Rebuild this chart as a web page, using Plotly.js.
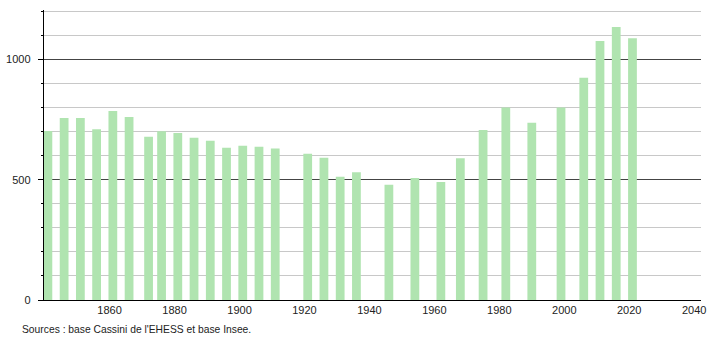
<!DOCTYPE html>
<html>
<head>
<meta charset="utf-8">
<script src="https://cdn.plot.ly/plotly-3.0.1.min.js"></script>
<style>html,body{margin:0;padding:0;background:#fff;}#chart{width:710px;height:340px;}</style>
</head>
<body>
<div id="chart"></div>
<script>
const years = [1841, 1846, 1851, 1856, 1861, 1866, 1872, 1876, 1881, 1886, 1891, 1896, 1901, 1906, 1911,
  1921, 1926, 1931, 1936, 1946, 1954, 1962, 1968, 1975, 1982, 1990, 1999, 2006, 2011, 2016, 2021];
const population = [702, 756, 756, 710, 785, 760, 678, 701, 694, 674, 662, 633, 641, 637, 629,
  608, 591, 512, 531, 479, 507, 490, 589, 706, 800, 737, 800, 924, 1076, 1134, 1088];
const xTickVals = [1860, 1880, 1900, 1920, 1940, 1960, 1980, 2000, 2020, 2040];
const yTickVals = [0, 500, 1000];
const sourceText = "Sources : base Cassini de l'EHESS et base Insee.";

const trace = {
  type: 'bar',
  x: years,
  y: population,
  width: 2.7,
  marker: {color: '#b0e4b0', line: {width: 0}},
  hoverinfo: 'x+y'
};

const layout = {
  width: 710, height: 340,
  margin: {l: 44, r: 9, t: 10, b: 40},
  paper_bgcolor: '#fff', plot_bgcolor: '#fff',
  showlegend: false,
  font: {family: 'Liberation Sans, Arial, sans-serif', size: 11, color: '#222'},
  xaxis: {
    range: [1839.8, 2042.1],
    tickvals: xTickVals,
    ticks: '',
    showgrid: false,
    zeroline: false,
    showline: true, linecolor: '#000', linewidth: 1.2,
    tickfont: {size: 11, color: '#222'}
  },
  yaxis: {
    range: [0, 1205],
    tickvals: yTickVals,
    ticks: 'outside', ticklen: 5, tickcolor: '#000', tickwidth: 1,
    ticklabelstandoff: 5,
    showgrid: true, gridcolor: '#444', gridwidth: 1,
    zeroline: false,
    showline: true, linecolor: '#000', linewidth: 1.2,
    tickfont: {size: 11, color: '#222'},
    minor: {dtick: 100, tick0: 0, ticks: 'outside', ticklen: 2, tickcolor: '#000', showgrid: true, gridcolor: '#c8c8c8', gridwidth: 1}
  },
  annotations: [{
    text: sourceText, xref: 'paper', yref: 'paper',
    x: -44/657 + 20/657, y: -29/290, xanchor: 'left', yanchor: 'middle',
    showarrow: false, font: {size: 10.3, color: '#222'}
  }]
};

Plotly.newPlot('chart', [trace], layout, {displayModeBar: false, staticPlot: true});
</script>
</body>
</html>
